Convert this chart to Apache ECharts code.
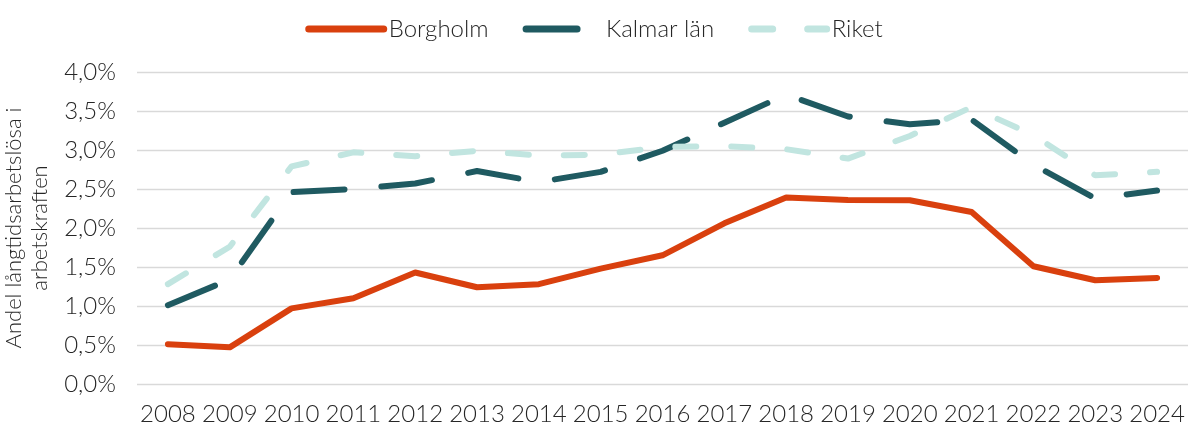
<!DOCTYPE html>
<html>
<head>
<meta charset="utf-8">
<script src="https://cdn.jsdelivr.net/npm/echarts@6/dist/echarts.min.js"></script>
<style>
html,body{margin:0;padding:0;background:#fff;}
#chart{width:1188px;height:423px;}
</style>
</head>
<body>
<div id="chart"></div>
<script>
const years = ['2008','2009','2010','2011','2012','2013','2014','2015','2016','2017','2018','2019','2020','2021','2022','2023','2024'];
const borgholm = [0.51,0.47,0.97,1.10,1.43,1.24,1.28,1.48,1.65,2.06,2.39,2.36,2.355,2.205,1.51,1.33,1.36];
const kalmar   = [1.01,1.34,2.46,2.50,2.57,2.73,2.59,2.72,2.99,3.35,3.71,3.43,3.33,3.39,2.81,2.38,2.48];
const riket    = [1.28,1.76,2.79,2.97,2.92,2.99,2.93,2.94,3.04,3.05,3.01,2.89,3.18,3.55,3.19,2.675,2.72];
const yTicks = ['0,0%','0,5%','1,0%','1,5%','2,0%','2,5%','3,0%','3,5%','4,0%'];

const FONT = "Lato";
const TXT = '#262626';
const C_B = '#d9400e', C_K = '#1f5a61', C_R = '#c1e5e0';
const DASH_K = [51, 37], DASH_R = [21, 35];

const chart = echarts.init(document.getElementById('chart'));
chart.setOption({
  animation: false,
  backgroundColor: '#ffffff',
  textStyle: { fontFamily: FONT, fontWeight: 300, color: TXT },
  legend: {
    top: 12,
    left: 'center',
    itemWidth: 75,
    itemHeight: 14,
    itemGap: 34,
    itemStyle: { opacity: 0 },
    textStyle: { fontFamily: FONT, fontWeight: 300, fontSize: 24, color: TXT },
    data: [
      { name: 'Borgholm', lineStyle: { width: 7, color: C_B, cap: 'round' } },
      { name: 'Kalmar län', lineStyle: { width: 7, color: C_K, type: DASH_K, cap: 'round' } },
      { name: 'Riket', lineStyle: { width: 7, color: C_R, type: DASH_R, cap: 'round' } }
    ]
  },
  grid: { left: 137, right: 0, top: 72, bottom: 39, containLabel: false, outerBoundsMode: 'none' },
  xAxis: {
    type: 'category',
    data: years,
    boundaryGap: true,
    axisLine: { show: false },
    axisTick: { show: false },
    axisLabel: { fontFamily: FONT, fontWeight: 300, fontSize: 24, color: TXT, margin: 18, interval: 0 }
  },
  yAxis: {
    type: 'value',
    min: 0, max: 4, interval: 0.5,
    name: 'Andel långtidsarbetslösa i\narbetskraften',
    nameLocation: 'middle',
    nameGap: 68,
    nameRotate: 90,
    nameTextStyle: { fontFamily: FONT, fontWeight: 300, fontSize: 22, color: TXT, lineHeight: 26 },
    axisLine: { show: false },
    axisTick: { show: false },
    splitLine: { lineStyle: { color: '#d9d9d9', width: 1.3 } },
    axisLabel: {
      fontFamily: FONT, fontWeight: 300, fontSize: 24, color: TXT, margin: 21,
      formatter: function (v) { return yTicks[Math.round(v / 0.5)]; }
    }
  },
  series: [
    {
      name: 'Borgholm', type: 'line', data: borgholm, symbol: 'none',
      itemStyle: { color: C_B },
      lineStyle: { color: C_B, width: 6, cap: 'round', join: 'round' }
    },
    {
      name: 'Kalmar län', type: 'line', data: kalmar, symbol: 'none',
      itemStyle: { color: C_K },
      lineStyle: { color: C_K, width: 6, type: DASH_K, cap: 'round', join: 'round' }
    },
    {
      name: 'Riket', type: 'line', data: riket, symbol: 'none',
      itemStyle: { color: C_R },
      lineStyle: { color: C_R, width: 6, type: DASH_R, cap: 'round', join: 'round' }
    }
  ]
});
</script>
</body>
</html>
